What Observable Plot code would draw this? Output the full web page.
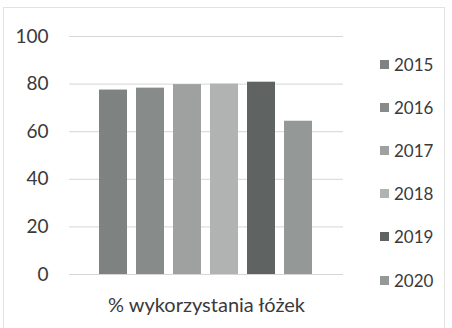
<!DOCTYPE html>
<html>
<head>
<meta charset="utf-8">
<script src="https://cdn.jsdelivr.net/npm/d3@7"></script>
<script src="https://cdn.jsdelivr.net/npm/@observablehq/plot@0.6"></script>
<style>
  html, body { margin: 0; padding: 0; background: #fff; }
  #wrap { position: relative; width: 452px; height: 328px; overflow: hidden; font-family: Lato, "Open Sans", sans-serif; }
  #frame { position: absolute; left: 3px; top: 7px; width: 442px; height: 330px; border: 1px solid #e2e2e2; box-sizing: border-box; }
  #chart { position: absolute; left: 0; top: 0; }
  #legend { position: absolute; left: 380px; top: 0; }
  .item { position: absolute; left: 0; display: flex; align-items: center; white-space: nowrap; color: #3a3a3a; font-size: 17px; }
  .sw { width: 9px; height: 9px; margin-right: 5px; }
</style>
</head>
<body>
<div id="wrap"><div id="frame"></div><div id="chart"></div><div id="legend"></div></div>
<script>
const years = ["2015", "2016", "2017", "2018", "2019", "2020"];
const values = [77.5, 78.3, 79.8, 80, 80.8, 64.4];
const colors = ["#7e8280", "#878b89", "#9fa1a0", "#b1b3b2", "#5f6462", "#949896"];
const yTicks = [0, 20, 40, 60, 80, 100];
const categoryLabel = "% wykorzystania łóżek";

const data = years.map((y, i) => ({year: y, value: values[i]}));

const plot = Plot.plot({
  width: 452,
  height: 328,
  marginLeft: 69,
  marginRight: 109,
  marginTop: 36,
  marginBottom: 54,
  style: {fontFamily: "Lato, 'Open Sans', sans-serif", background: "transparent", color: "#3a3a3a"},
  x: {domain: years, paddingInner: 0.243, paddingOuter: 0.824, axis: null},
  y: {domain: [0, 100], ticks: yTicks, label: null},
  color: {domain: years, range: colors},
  marks: [
    Plot.ruleY(yTicks, {stroke: "#d6d6d6", strokeWidth: 1}),
    Plot.barY(data, {x: "year", y: "value", fill: "year"}),
    Plot.axisY({ticks: yTicks, tickSize: 0, tickPadding: 21, fontSize: 19, fill: "#3a3a3a", label: null}),
    Plot.text([categoryLabel], {frameAnchor: "bottom", dy: 31, fontSize: 20, fill: "#3a3a3a", lineAnchor: "middle"})
  ]
});
document.getElementById("chart").appendChild(plot);

const legend = document.getElementById("legend");
years.forEach((y, i) => {
  const it = document.createElement("div");
  it.className = "item";
  it.style.top = (64 + i * 43.2 - 11) + "px";
  it.style.height = "22px";
  const sw = document.createElement("span");
  sw.className = "sw";
  sw.style.background = colors[i];
  const t = document.createElement("span");
  t.textContent = y;
  it.appendChild(sw);
  it.appendChild(t);
  legend.appendChild(it);
});
</script>
</body>
</html>
